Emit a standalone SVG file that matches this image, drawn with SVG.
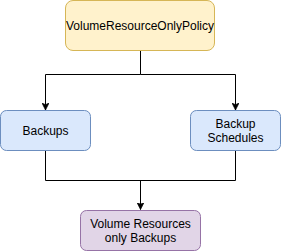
<svg xmlns="http://www.w3.org/2000/svg" width="281" height="251" viewBox="0 0 281 251">
<style>
.n{stroke-width:1}
.y{fill:#fff2cc;stroke:#d6b656}
.b{fill:#dae8fc;stroke:#6c8ebf}
.p{fill:#e1d5e7;stroke:#9673a6}
text{font-family:"Liberation Sans",Arial,Helvetica,sans-serif;font-size:12px;fill:#000;text-anchor:middle}
.e{fill:none;stroke:#000;stroke-width:1}
</style>
<defs>
<marker id="a" viewBox="0 0 10 10" refX="10" refY="5" markerWidth="7" markerHeight="7" markerUnits="userSpaceOnUse" orient="auto">
<path d="M0,0 L10,5 L0,10 L2.5,5 Z" fill="#000" stroke="#000" stroke-width="1"/>
</marker>
</defs>
<g id="connectors">
<path class="e" d="M140.5,50.5 V74.5 H45.5 V110" marker-end="url(#a)"/>
<path class="e" d="M140.5,74.5 H235.5 V110" marker-end="url(#a)"/>
<path class="e" d="M45.5,150.5 V180.5 H235.5 V150.5"/>
<path class="e" d="M140.5,180.5 V209.5" marker-end="url(#a)"/>
</g>
<g id="policy">
<rect class="n y" x="65.5" y="0.5" width="149" height="50" rx="7.5"/>
<text x="140" y="29.5">VolumeResourceOnlyPolicy</text>
</g>
<g id="backups">
<rect class="n b" x="0.5" y="110.5" width="90" height="40" rx="6"/>
<text x="45.5" y="134.5">Backups</text>
</g>
<g id="schedules">
<rect class="n b" x="190.5" y="110.5" width="90" height="40" rx="6"/>
<text x="235.5" y="127.5">Backup</text>
<text x="235.5" y="141.5">Schedules</text>
</g>
<g id="result">
<rect class="n p" x="80.5" y="210.5" width="120" height="40" rx="6"/>
<text x="140.5" y="227.5">Volume Resources</text>
<text x="140.5" y="241.5">only Backups</text>
</g>
</svg>
